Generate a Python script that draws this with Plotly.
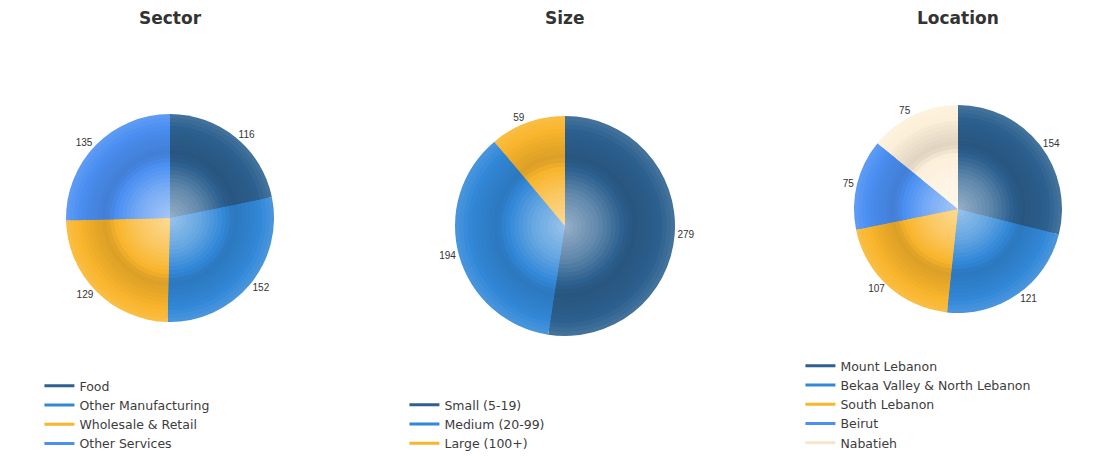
import plotly.graph_objects as go

# ---- data ----
sector_labels = ["Food", "Other Manufacturing", "Wholesale & Retail", "Other Services"]
sector_values = [116, 152, 129, 135]
sector_colors = ["#2d6190", "#3288d8", "#f9b52c", "#4b8ff2"]

size_labels = ["Small (5-19)", "Medium (20-99)", "Large (100+)"]
size_values = [279, 194, 59]
size_colors = ["#2d6190", "#3288d8", "#f9b52c"]

loc_labels = ["Mount Lebanon", "Bekaa Valley & North Lebanon", "South Lebanon", "Beirut", "Nabatieh"]
loc_values = [154, 121, 107, 75, 75]
loc_colors = ["#2d6190", "#3288d8", "#f9b52c", "#4b8ff2", "#fdf0da"]

titles = ["Sector", "Size", "Location"]

FONT = "Liberation Sans, Arial, sans-serif"
LFONT = "DejaVu Sans, sans-serif"
W, H = 1115, 458

# panel layout: centre (px), radius (px), legend id, legend left (px)
panels = [
    (sector_labels, sector_values, sector_colors, 170, 218, 104, "legend", 45),
    (size_labels, size_values, size_colors, 565, 226, 110, "legend2", 410),
    (loc_labels, loc_values, loc_colors, 958, 209, 104, "legend3", 806),
]


def hex2rgb(h):
    h = h.lstrip("#")
    return [int(h[i:i + 2], 16) for i in (0, 2, 4)]


def shade(h, w):
    r = hex2rgb(h)
    if w >= 0:
        r = [c + (255 - c) * w for c in r]
    else:
        r = [c * (1 + w) for c in r]
    return "rgb(%d,%d,%d)" % tuple(int(round(c)) for c in r)


def profile(t):
    # radial light profile: light centre, darker middle ring, lighter rim
    pts = [(0.0, 0.5), (0.3, 0.25), (0.62, -0.12), (0.85, -0.02), (1.0, 0.12)]
    for (a, wa), (b, wb) in zip(pts, pts[1:]):
        if a <= t <= b:
            return wa + (wb - wa) * (t - a) / (b - a)
    return pts[-1][1]


fig = go.Figure()
NL = 26
for labels, values, colors, cx, cy, R, leg, lx in panels:
    for k in range(NL):
        frac = 1 - k / NL
        rr = R * frac
        tmid = (frac - 0.5 / NL)
        cols = [shade(c, profile(tmid)) for c in colors]
        x0, x1 = (cx - rr) / W, (cx + rr) / W
        y0, y1 = 1 - (cy + rr) / H, 1 - (cy - rr) / H
        outer = k == 0
        fig.add_trace(go.Pie(
            labels=labels, values=values, sort=False, direction="clockwise", rotation=0,
            domain=dict(x=[x0, x1], y=[y0, y1]),
            marker=dict(colors=cols, line=dict(width=0)),
            textinfo="value" if outer else "none",
            textposition="outside" if outer else "none",
            textfont=dict(size=10, color="#333333", family=FONT),
            showlegend=False,
            hoverinfo="label+value+percent" if outer else "skip",
        ))
    for lab, col in zip(labels, colors):
        fig.add_trace(go.Scatter(
            x=[None], y=[None], mode="lines", name=lab,
            line=dict(color=col if col != "#fdf0da" else "#f6e6cc", width=3),
            legend=leg, showlegend=True,
        ))

for t, p in zip(titles, panels):
    fig.add_annotation(text="<b>%s</b>" % t, x=p[3] / W, y=1 - 18 / H, xref="paper", yref="paper",
                       xanchor="center", yanchor="middle", showarrow=False,
                       font=dict(size=17, color="#333333", family=LFONT))

leg_common = dict(yanchor="bottom", y=0, xanchor="left", bgcolor="rgba(0,0,0,0)",
                  font=dict(size=12.5, color="#3c3c3c", family=LFONT), tracegroupgap=0,
                  itemwidth=30)
fig.update_layout(
    width=W, height=H, margin=dict(l=0, r=0, t=0, b=0),
    paper_bgcolor="white", plot_bgcolor="white",
    xaxis=dict(visible=False), yaxis=dict(visible=False),
    legend=dict(x=panels[0][7] / W - 0.005, **leg_common),
    legend2=dict(x=panels[1][7] / W - 0.005, **leg_common),
    legend3=dict(x=panels[2][7] / W - 0.005, **leg_common),
)

fig.write_html("out.html")
